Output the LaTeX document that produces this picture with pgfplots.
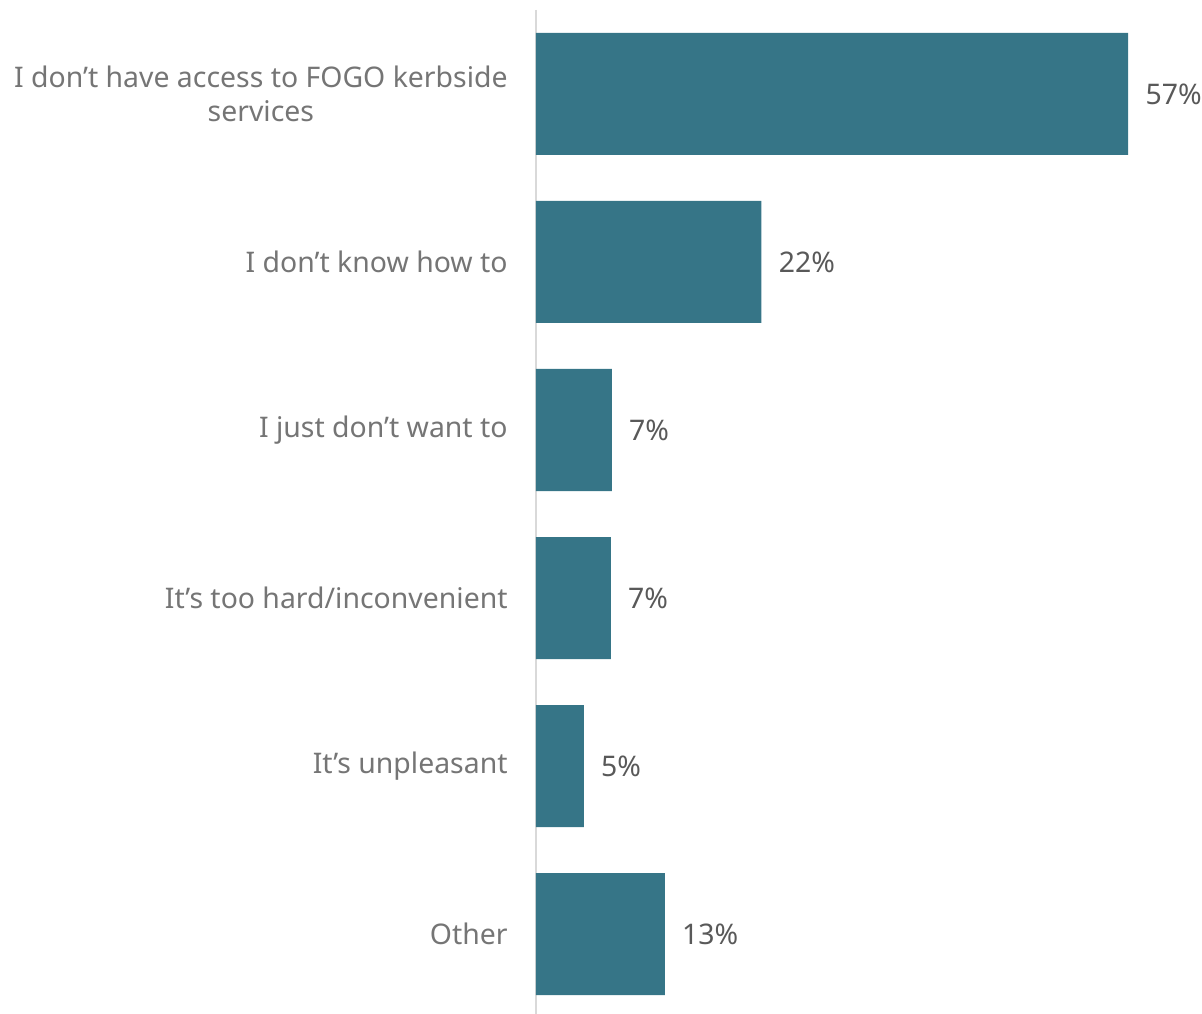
\documentclass[border=0pt]{standalone}
\usepackage{pgfplots}
\usepackage{pgfplotstable}
\pgfplotsset{compat=1.18}
\usepackage{fontspec}
\setmainfont{Noto Sans}
\definecolor{barc}{HTML}{367587}
\definecolor{lblc}{HTML}{757575}
\definecolor{valc}{HTML}{595959}
\definecolor{axc}{HTML}{D9D9D9}
\pgfplotstableread{
y x lab
1 57.0 57
2 21.7 22
3 7.3 7
4 7.2 7
5 4.6 5
6 12.4 13
}\datatab
\begin{document}
\begin{tikzpicture}
\begin{axis}[
  name=ax,
  scale only axis,
  width=333pt, height=504pt,
  xmin=0, xmax=64.1,
  ymin=0.5, ymax=6.5,
  y dir=reverse,
  enlargelimits=false,
  axis x line=none,
  axis y line*=left,
  y axis line style={draw=axc, line width=0.8pt, -},
  ytick={1,2,3,4,5,6},
  yticklabels={{I don’t have access to FOGO kerbside\\services},{I don’t know how to},{I just don’t want to},{It’s too hard/inconvenient},{It’s unpleasant},{Other}},
  major tick length=0pt,
  yticklabel style={align=center, font=\fontsize{14.2}{17}\selectfont, text=lblc, inner sep=0pt, xshift=-14pt},
  xbar, bar width=61pt,
  clip=false,
  nodes near coords={\pgfplotspointmeta\%},
  point meta=explicit symbolic,
  nodes near coords style={anchor=west, inner sep=0pt, xshift=8.5pt, font=\fontsize{14.2}{17}\selectfont, text=valc},
]
\addplot[fill=barc, draw=none] table[x=x, y=y, meta=lab] {\datatab};
\end{axis}
\pgfresetboundingbox
\path[use as bounding box] ([xshift=-268pt,yshift=2pt]ax.south west) rectangle ([xshift=333pt,yshift=5pt]ax.north west);
\end{tikzpicture}
\end{document}
